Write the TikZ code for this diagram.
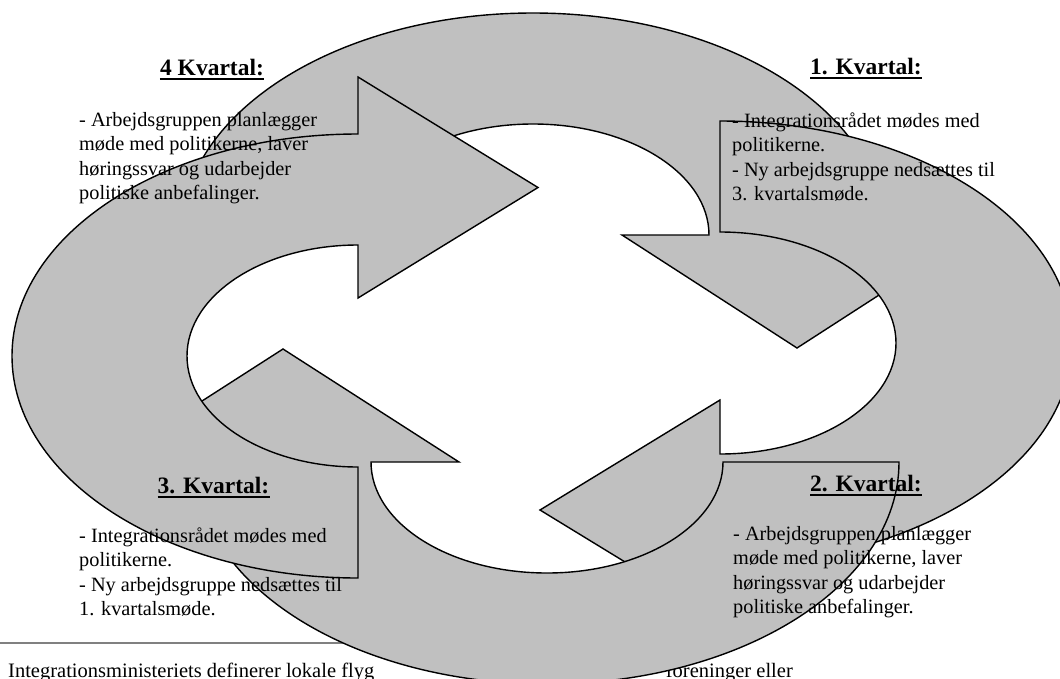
\documentclass[tikz,border=0pt]{standalone}
\usepackage{fontspec}
\setmainfont{Liberation Serif}
\definecolor{shapegray}{HTML}{C0C0C0}
\begin{document}
\begin{tikzpicture}[x=1pt,y=-1pt,
  arr/.style={fill=shapegray, draw=black, line width=1.4pt, line join=miter},
  bodytxt/.style={anchor=base west, inner sep=0pt, font=\fontsize{20.3}{24.6}\selectfont},
  notetxt/.style={inner sep=0pt, font=\fontsize{20.5}{24.6}\selectfont},
  headtxt/.style={anchor=base, inner sep=0pt, font=\fontsize{23.5}{28}\selectfont\bfseries},
  uline/.style={line width=1.8pt},
  sepline/.style={draw=gray, line width=1.2pt}
]
\useasboundingbox (0,0) rectangle (1060,678);

% footnote separator and footnote text (under the shapes)
\coordinate (s0) at (0,643);
\coordinate (s1) at (420,643);
\draw[sepline] (s0) -- (s1);
\node[notetxt, anchor=base west] (fnl) at (8,677) {Integrationsministeriets definerer lokale flyg};
\node[notetxt, anchor=base east] (fnr) at (793,677) {foreninger eller};

% arrow b (top, pointing down at right)
\draw[arr] (181,235) arc[start angle=180, end angle=360, x radius=352, y radius=222]
  -- (972,235) -- (797,348) -- (622,235) -- (709,235)
  arc[start angle=360, end angle=180, x radius=176, y radius=111] -- cycle;
% arrow c (right, pointing left at bottom)
\draw[arr] (720,121) arc[start angle=270, end angle=450, x radius=352, y radius=222]
  -- (720,620) -- (540,510) -- (720,400) -- (720,454)
  arc[start angle=450, end angle=270, x radius=176, y radius=111] -- cycle;
% arrow d (bottom, pointing up at left)
\draw[arr] (899,462) arc[start angle=0, end angle=180, x radius=352, y radius=222]
  -- (107,462) -- (283,349) -- (459,462) -- (371,462)
  arc[start angle=180, end angle=0, x radius=176, y radius=111] -- cycle;
% arrow a (left, pointing right at top)
\draw[arr] (358,578) arc[start angle=90, end angle=270, x radius=346, y radius=222]
  -- (358,77) -- (538,187.5) -- (358,298) -- (358,245)
  arc[start angle=270, end angle=90, x radius=171, y radius=111] -- cycle;

% headings
\node[headtxt] (h4) at (212,75) {4 Kvartal:};
\node[headtxt] (h1) at (866,74.5) {1. Kvartal:};
\node[headtxt] (h3) at (213.5,493) {3. Kvartal:};
\node[headtxt] (h2) at (866,491) {2. Kvartal:};
\foreach \h in {h4,h1,h3,h2}{
  \draw[uline] ([yshift=-3.6pt]\h.base west) -- ([yshift=-3.6pt]\h.base east);
}

% bodies
\node[bodytxt] (b4) at (79,126) {\parbox[t]{330pt}{\raggedright
  - Arbejdsgruppen planlægger\\møde med politikerne, laver\\høringssvar og udarbejder\\politiske anbefalinger.}};
\node[bodytxt] (b1) at (732,127) {\parbox[t]{330pt}{\raggedright
  - Integrationsrådet mødes med\\politikerne.\\- Ny arbejdsgruppe nedsættes til\\3. kvartalsmøde.}};
\node[bodytxt] (b3) at (79,542) {\parbox[t]{330pt}{\raggedright
  - Integrationsrådet mødes med\\politikerne.\\- Ny arbejdsgruppe nedsættes til\\1. kvartalsmøde.}};
\node[bodytxt] (b2) at (733,540) {\parbox[t]{330pt}{\raggedright
  - Arbejdsgruppen planlægger\\møde med politikerne, laver\\høringssvar og udarbejder\\politiske anbefalinger.}};
\end{tikzpicture}
\end{document}
